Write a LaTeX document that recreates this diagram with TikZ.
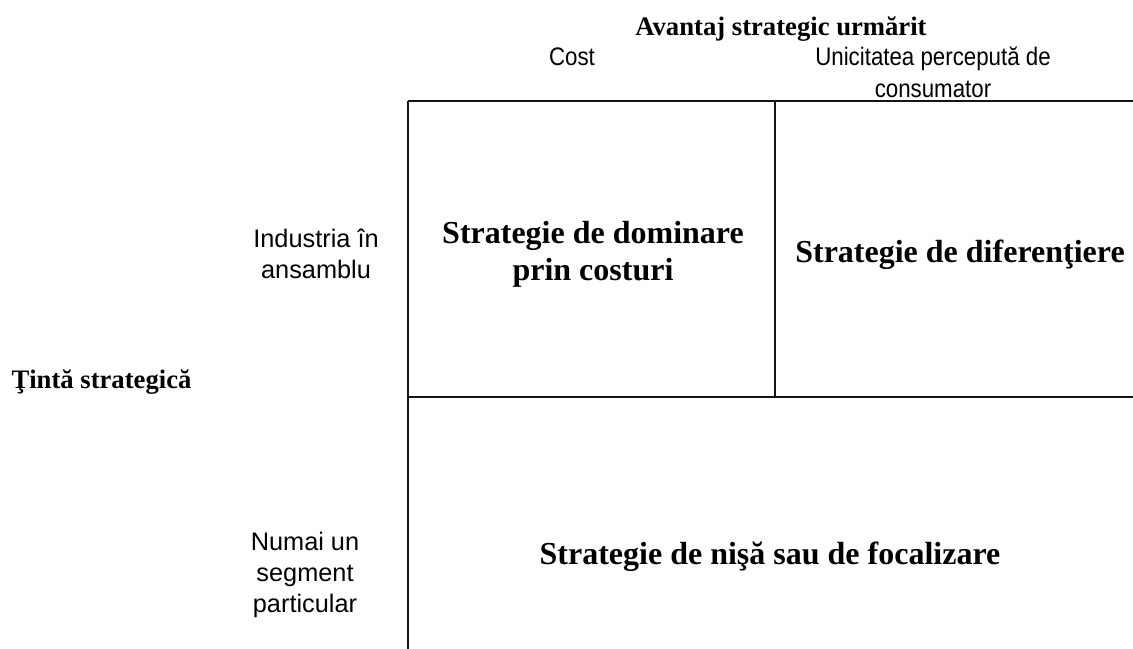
\documentclass[tikz,border=0pt]{standalone}
\usepackage{fontspec}
\setmainfont{Liberation Serif}
\setsansfont{Liberation Sans}
\newfontfamily\narrowsans[FakeStretch=0.88]{Liberation Sans}

\tikzset{every picture/.style={line width=0.75pt}}
\tikzset{
  gridline/.style={color={rgb, 255:red, 20; green, 20; blue, 20 }, line width=1pt},
  headbold/.style={inner sep=0.75pt, font=\fontsize{20}{24}\selectfont\bfseries},
  headtext/.style={inner sep=0.75pt, align=center, font=\narrowsans\fontsize{19}{24}\selectfont},
  cellbold/.style={inner sep=0.75pt, align=center, font=\fontsize{24}{27.5}\selectfont\bfseries},
  sidetext/.style={inner sep=0.75pt, align=center, font=\sffamily\fontsize{19}{23}\selectfont}
}

\begin{document}
\begin{tikzpicture}[x=0.75pt,y=0.75pt,yscale=-1,xscale=1]
\useasboundingbox (0,0) rectangle (1133,649);

% Grid corners
\coordinate (tl) at (408,101);
\coordinate (tm) at (775,101);
\coordinate (tr) at (1133,101);
\coordinate (ml) at (408,397);
\coordinate (mm) at (775,397);
\coordinate (mr) at (1133,397);
\coordinate (bl) at (408,649);

%Straight Lines
\draw [gridline] (tl) -- (tr) ;
%Straight Lines
\draw [gridline] (tl) -- (bl) ;
%Straight Lines
\draw [gridline] (tm) -- (mm) ;
%Straight Lines
\draw [gridline] (ml) -- (mr) ;

% Text Node
\node [headbold] (avantaj) at (781,29) {Avantaj strategic urmărit};
% Text Node
\node [headtext] (cost) at (572,57) {Cost};
% Text Node
\node [headtext] (unicitate) at (933,72) {Unicitatea percepută de\\consumator};
% Text Node
\node [sidetext] (industria) at (316,254) {Industria în\\ansamblu};
% Text Node
\node [headbold, anchor=west] (tinta) at (10,382) {Ţintă strategică};
% Text Node
\node [sidetext] (segment) at (305,575) {Numai un\\segment\\particular};
% Text Node
\node [cellbold] (dominare) at (593,254) {Strategie de dominare\\prin costuri};
% Text Node
\node [cellbold] (diferentiere) at (960,255) {Strategie de diferenţiere};
% Text Node
\node [cellbold] (nisa) at (770,557) {Strategie de nişă sau de focalizare};
\end{tikzpicture}
\end{document}
